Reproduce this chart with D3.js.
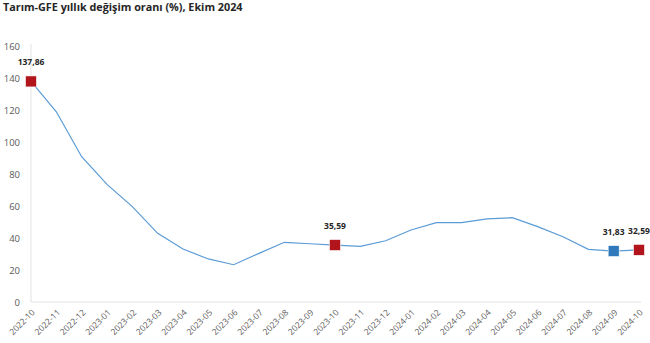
<!DOCTYPE html>
<html>
<head>
<meta charset="utf-8">
<script src="https://cdn.jsdelivr.net/npm/d3@7"></script>
<style>
  html, body { margin: 0; padding: 0; background: #fff; }
  svg { display: block; font-family: "Open Sans", "Liberation Sans", sans-serif; }
</style>
</head>
<body>
<svg id="chart" width="650" height="343"></svg>
<script>
// Monthly periods
const months = [
  "2022-10","2022-11","2022-12","2023-01","2023-02","2023-03","2023-04",
  "2023-05","2023-06","2023-07","2023-08","2023-09","2023-10","2023-11",
  "2023-12","2024-01","2024-02","2024-03","2024-04","2024-05","2024-06",
  "2024-07","2024-08","2024-09","2024-10"
];
// Annual change rate (%)
const rates = [
  137.86, 118.9, 90.8, 73.5, 59.6, 42.9, 33.1,
  26.9, 23.3, 30.4, 37.3, 36.4, 35.59, 34.8,
  38.3, 45.0, 49.6, 49.6, 51.9, 52.7, 47.1,
  40.8, 32.9, 31.83, 32.59
];
const yTicks = [0, 20, 40, 60, 80, 100, 120, 140, 160];
// Highlighted periods and their marker colour
const highlightMonths = ["2022-10", "2023-10", "2024-09", "2024-10"];
const highlightColors = ["#b2141c", "#b2141c", "#2e78bb", "#b2141c"];

const svg = d3.select("#chart");
const plotLeft = 31, plotRight = 639, plotTop = 46, plotBottom = 302;

const x = d3.scalePoint().domain(months).range([plotLeft, plotRight]);
const y = d3.scaleLinear().domain([0, 160]).range([plotBottom, plotTop]);

// Title
svg.append("text")
  .attr("x", 3).attr("y", 11)
  .attr("font-size", 10.8).attr("font-weight", "bold").attr("fill", "#262626")
  .text("Tarım-GFE yıllık değişim oranı (%), Ekim 2024");

// Y axis labels
const yAxis = d3.axisLeft(y).tickValues(yTicks).tickSize(0).tickPadding(11)
  .tickFormat(d3.format("d"));
const gy = svg.append("g").attr("transform", `translate(${plotLeft},0)`).call(yAxis);
gy.select(".domain").remove();
gy.selectAll("text").attr("font-size", 9.5).attr("fill", "#595959")
  .attr("font-family", "'Open Sans', sans-serif");

// Vertical axis line and baseline
svg.append("line").attr("x1", plotLeft).attr("x2", plotLeft)
  .attr("y1", y(160) - 2).attr("y2", plotBottom)
  .attr("stroke", "#e3e3e3").attr("stroke-width", 1);
svg.append("line").attr("x1", plotLeft).attr("x2", plotRight + 2)
  .attr("y1", plotBottom).attr("y2", plotBottom)
  .attr("stroke", "#e3e3e3").attr("stroke-width", 1);

// X axis labels, rotated
const xAxis = d3.axisBottom(x).tickSize(0).tickPadding(0);
const gx = svg.append("g").attr("transform", `translate(0,${plotBottom})`).call(xAxis);
gx.select(".domain").remove();
gx.selectAll("text")
  .attr("font-size", 8.5).attr("fill", "#595959")
  .attr("font-family", "'Open Sans', sans-serif")
  .attr("text-anchor", "end")
  .attr("dy", null)
  .attr("transform", "translate(4,11) rotate(-45)");

// Line
const line = d3.line().x((d, i) => x(months[i])).y(d => y(d));
svg.append("path").datum(rates)
  .attr("d", line).attr("fill", "none")
  .attr("stroke", "#5b9bd5").attr("stroke-width", 1.2);

// Markers and value labels
const fmt = v => v.toFixed(2).replace(".", ",");
const hl = highlightMonths.map((m, k) => ({ m, v: rates[months.indexOf(m)], c: highlightColors[k] }));
const s = 11;
svg.selectAll("rect.mk").data(hl).enter().append("rect")
  .attr("class", "mk")
  .attr("x", d => x(d.m) - s / 2).attr("y", d => y(d.v) - s / 2)
  .attr("width", s).attr("height", s)
  .attr("fill", d => d.c).attr("stroke", "#fff").attr("stroke-width", 0.6);
svg.selectAll("text.lbl").data(hl).enter().append("text")
  .attr("class", "lbl")
  .attr("x", d => x(d.m)).attr("y", d => y(d.v) - 16)
  .attr("text-anchor", "middle")
  .attr("font-size", 8.5).attr("font-weight", "bold").attr("fill", "#262626")
  .text(d => fmt(d.v));
</script>
</body>
</html>
